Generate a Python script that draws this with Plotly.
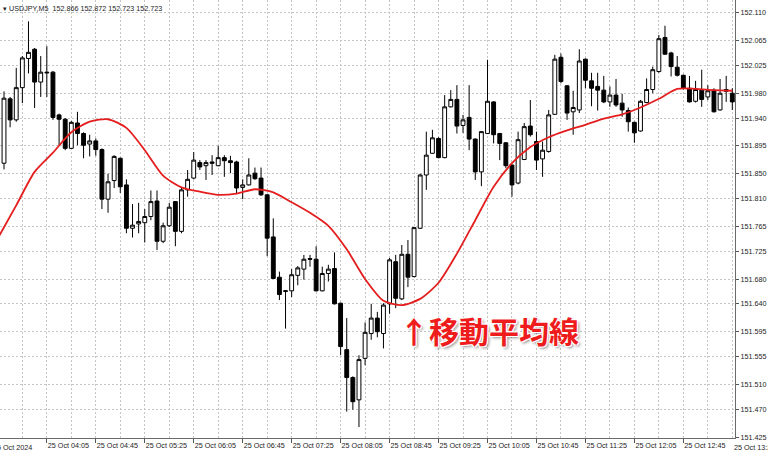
import pandas as pd
import plotly.graph_objects as go

# ---- data -------------------------------------------------------------
all_times = pd.date_range("2024-10-25 03:25", periods=121, freq="5min")
times = all_times[1:]  # candle times 03:30 .. 13:25

open_ = [151.867, 151.971, 151.937, 151.989, 152.036, 152.051, 151.998, 152.014, 152.014, 151.945,
         151.938, 151.891, 151.932, 151.915, 151.898, 151.903, 151.889, 151.809, 151.839, 151.875,
         151.832, 151.762, 151.769, 151.771, 151.781, 151.806, 151.741, 151.766, 151.805, 151.757,
         151.824, 151.843, 151.868, 151.863, 151.869, 151.863, 151.876, 151.871, 151.869, 151.828,
         151.832, 151.851, 151.843, 151.816, 151.748, 151.683, 151.660, 151.661, 151.686, 151.696,
         151.713, 151.712, 151.661, 151.689, 151.697, 151.641, 151.566, 151.521, 151.485, 151.552,
         151.592, 151.617, 151.592, 151.640, 151.708, 151.648, 151.720, 151.684, 151.762, 151.848,
         151.883, 151.907, 151.876, 151.958, 151.970, 151.928, 151.941, 151.906, 151.853, 151.915,
         151.966, 151.915, 151.900, 151.864, 151.835, 151.873, 151.927, 151.902, 151.874, 151.886,
         151.946, 152.038, 151.992, 151.950, 151.953, 152.035, 152.000, 151.991, 151.985, 151.966,
         151.977, 151.964, 151.952, 151.933, 151.919, 151.965, 151.986, 152.015, 152.070, 152.045,
         152.022, 152.009, 151.988, 151.967, 151.985, 151.974, 151.985, 151.953, 151.983, 151.980]
high = [151.983, 151.974, 152.021, 152.040, 152.096, 152.053, 152.040, 152.056, 152.016, 151.947,
        151.940, 151.935, 151.950, 151.917, 151.913, 151.907, 151.891, 151.850, 151.880, 151.876,
        151.841, 151.801, 151.803, 151.793, 151.823, 151.823, 151.771, 151.803, 151.806, 151.827,
        151.856, 151.885, 151.872, 151.872, 151.880, 151.895, 151.880, 151.879, 151.871, 151.841,
        151.875, 151.860, 151.860, 151.817, 151.778, 151.692, 151.662, 151.696, 151.701, 151.719,
        151.719, 151.733, 151.700, 151.703, 151.723, 151.642, 151.617, 151.523, 151.557, 151.610,
        151.640, 151.627, 151.641, 151.714, 151.719, 151.735, 151.743, 151.764, 151.850, 151.918,
        151.921, 151.909, 151.977, 151.985, 151.993, 151.945, 151.993, 151.907, 151.919, 152.034,
        151.967, 151.916, 151.901, 151.865, 151.918, 151.932, 151.969, 151.918, 151.902, 151.953,
        152.042, 152.044, 151.993, 151.984, 152.051, 152.036, 152.013, 152.013, 152.008, 151.991,
        152.003, 151.979, 151.957, 151.934, 151.969, 152.004, 152.023, 152.074, 152.089, 152.047,
        152.040, 152.010, 152.008, 152.000, 152.018, 151.993, 151.988, 152.003, 152.008, 151.988]
low = [151.857, 151.925, 151.934, 151.964, 152.012, 151.956, 151.974, 151.974, 151.937, 151.896,
       151.888, 151.890, 151.896, 151.875, 151.878, 151.879, 151.793, 151.787, 151.827, 151.819,
       151.754, 151.747, 151.754, 151.739, 151.775, 151.727, 151.738, 151.764, 151.733, 151.754,
       151.813, 151.841, 151.856, 151.840, 151.848, 151.862, 151.845, 151.851, 151.818, 151.809,
       151.831, 151.840, 151.814, 151.717, 151.680, 151.646, 151.600, 151.651, 151.670, 151.679,
       151.700, 151.660, 151.660, 151.676, 151.639, 151.557, 151.466, 151.469, 151.441, 151.541,
       151.582, 151.586, 151.568, 151.624, 151.633, 151.646, 151.667, 151.683, 151.761, 151.824,
       151.882, 151.875, 151.875, 151.957, 151.915, 151.916, 151.888, 151.840, 151.830, 151.914,
       151.899, 151.872, 151.859, 151.813, 151.833, 151.872, 151.910, 151.856, 151.845, 151.884,
       151.945, 151.996, 151.937, 151.913, 151.948, 151.988, 151.959, 151.952, 151.964, 151.958,
       151.958, 151.942, 151.918, 151.900, 151.918, 151.964, 151.980, 152.013, 152.042, 152.007,
       152.007, 151.986, 151.965, 151.965, 151.958, 151.969, 151.949, 151.952, 151.966, 151.953]
close = [151.972, 151.937, 151.989, 152.037, 152.046, 151.998, 152.014, 152.013, 151.941, 151.938,
         151.891, 151.933, 151.915, 151.896, 151.903, 151.889, 151.809, 151.837, 151.878, 151.829,
         151.762, 151.767, 151.773, 151.781, 151.805, 151.741, 151.766, 151.796, 151.757, 151.824,
         151.841, 151.872, 151.861, 151.868, 151.867, 151.876, 151.871, 151.868, 151.827, 151.832,
         151.848, 151.842, 151.816, 151.746, 151.681, 151.655, 151.661, 151.687, 151.698, 151.712,
         151.712, 151.661, 151.689, 151.696, 151.640, 151.571, 151.521, 151.482, 151.550, 151.594,
         151.617, 151.595, 151.638, 151.711, 151.649, 151.720, 151.683, 151.763, 151.848, 151.880,
         151.908, 151.876, 151.958, 151.970, 151.927, 151.937, 151.906, 151.853, 151.918, 151.967,
         151.913, 151.899, 151.863, 151.832, 151.905, 151.926, 151.913, 151.872, 151.888, 151.945,
         152.035, 151.999, 151.948, 151.957, 152.032, 152.001, 151.988, 151.985, 151.966, 151.977,
         151.961, 151.953, 151.934, 151.916, 151.967, 151.986, 152.018, 152.068, 152.043, 152.023,
         152.009, 151.988, 151.966, 151.986, 151.970, 151.984, 151.950, 151.980, 151.986, 151.966]

# moving average, read every 3rd bar (index into all_times)
ma_pos = list(range(0, 121, 3))
ma_values = [151.746, 151.799, 151.853, 151.884, 151.917, 151.934, 151.938, 151.924, 151.888, 151.847,
             151.828, 151.821, 151.816, 151.818, 151.825, 151.820, 151.804, 151.787, 151.766, 151.728,
             151.680, 151.645, 151.638, 151.648, 151.674, 151.721, 151.775, 151.829, 151.867, 151.893,
             151.909, 151.920, 151.929, 151.939, 151.946, 151.957, 151.971, 151.987, 151.987, 151.985,
             151.984]

y_tick_labels = ["152.110", "152.065", "152.025", "151.980", "151.940", "151.895", "151.850",
                 "151.810", "151.765", "151.725", "151.680", "151.640", "151.595", "151.555",
                 "151.510", "151.470", "151.425"]

x_label_pos = list(range(0, 121, 8))
x_grid_minor_pos = list(range(4, 121, 8))
title_text = "▾ USDJPY,M5  152.866 152.872 152.723 152.723"
label_text = "↑移動平均線"

# ---- figure -----------------------------------------------------------
FONT = "Liberation Sans, Arial, sans-serif"
FS = 7.2
GRID = "#c4c4c4"
TXT = "#222222"

fig = go.Figure()
fig.add_trace(go.Candlestick(
    x=times, open=open_, high=high, low=low, close=close,
    increasing=dict(line=dict(color="#000000", width=1), fillcolor="#ffffff"),
    decreasing=dict(line=dict(color="#000000", width=1), fillcolor="#000000"),
    whiskerwidth=0, showlegend=False, hoverinfo="skip",
))
fig.add_trace(go.Scatter(
    x=[all_times[i] for i in ma_pos], y=ma_values, mode="lines",
    line=dict(color="#e41e1e", width=1.8, shape="spline", smoothing=0.7),
    showlegend=False, hoverinfo="skip",
))

x_tick_text = ["25 Oct 2024" if i == 0 else "25 Oct " + all_times[i].strftime("%H:%M")
               for i in x_label_pos]
# labels inside the range are drawn by the axis; the two at the edges as annotations
inner = [(all_times[i], t) for i, t in zip(x_label_pos, x_tick_text) if 0 < i < 120]

fig.update_layout(
    width=768, height=452,
    margin=dict(l=0, r=33, t=0, b=14, pad=0),
    paper_bgcolor="white", plot_bgcolor="white",
    boxgap=0.1, boxgroupgap=0.3,
    font=dict(family=FONT, size=FS, color=TXT),
    xaxis=dict(
        type="date",
        range=[pd.Timestamp("2024-10-25 03:26:44"), pd.Timestamp("2024-10-25 13:27:12")],
        rangeslider=dict(visible=False),
        tickmode="array", tickvals=[v for v, _ in inner], ticktext=[t for _, t in inner],
        ticklabelposition="outside right", tickangle=0,
        ticks="outside", ticklen=4, tickcolor="#555555",
        showline=True, linecolor="#6a6a6a", linewidth=1,
        showgrid=True, gridcolor=GRID, griddash="2px,2px", gridwidth=1,
        minor=dict(tickmode="array", tickvals=[all_times[i] for i in x_grid_minor_pos + [120]],
                   showgrid=True, gridcolor=GRID, griddash="2px,2px", gridwidth=1, ticks=""),
        zeroline=False, fixedrange=True,
        tickfont=dict(family=FONT, size=FS, color=TXT),
    ),
    yaxis=dict(
        side="right",
        range=[151.4234, 152.1305],
        tickmode="array", tickvals=[float(v) for v in y_tick_labels], ticktext=y_tick_labels,
        ticks="outside", ticklen=3, tickcolor="#555555",
        showline=True, linecolor="#6a6a6a", linewidth=1,
        showgrid=True, gridcolor=GRID, griddash="2px,2px", gridwidth=1,
        zeroline=False, fixedrange=True,
        tickfont=dict(family=FONT, size=FS, color=TXT),
    ),
    annotations=[
        dict(text=title_text, xref="paper", yref="paper", x=0, y=1,
             xanchor="left", yanchor="top", xshift=1, yshift=-2, showarrow=False,
             font=dict(family=FONT, size=FS, color=TXT)),
        dict(text=x_tick_text[0], xref="paper", yref="paper", x=0, y=0,
             xanchor="left", yanchor="top", xshift=-9, yshift=-3, showarrow=False,
             font=dict(family=FONT, size=FS, color=TXT)),
        dict(text=x_tick_text[-1], xref="x", yref="paper", x=all_times[120], y=0,
             xanchor="left", yanchor="top", xshift=0, yshift=-3, showarrow=False,
             font=dict(family=FONT, size=FS, color=TXT)),
        dict(text=label_text, xref="paper", yref="paper", x=397 / 735, y=(438 - 330) / 438,
             xanchor="left", yanchor="middle", showarrow=False,
             font=dict(family="Noto Sans CJK JP", size=30, color="#ee1c1c", weight="bold",
                       shadow="-1px -1px 0 #fff, 1px -1px 0 #fff, -1px 1px 0 #fff, 1px 1px 0 #fff, 2px 2px 3px rgba(0,0,0,0.45)")),
    ],
)

fig.write_html("out.html", config={"displayModeBar": False},
               post_script="document.body.style.margin='0';document.body.style.overflow='hidden';")
